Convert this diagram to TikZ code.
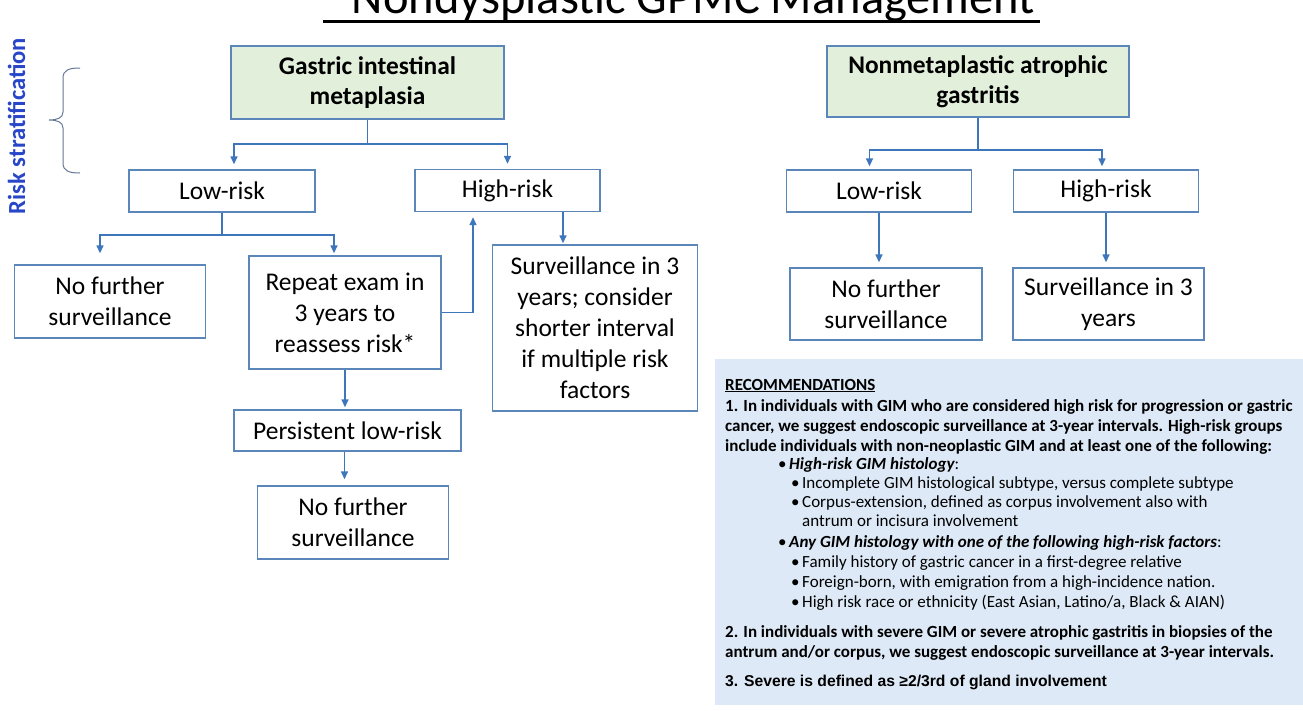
\documentclass[tikz,border=0pt]{standalone}
\usepackage{fontspec}
\setmainfont{Carlito}
\newfontfamily\arialfont{Liberation Sans}
\usetikzlibrary{arrows.meta}
\definecolor{boxline}{RGB}{91,134,186}
\definecolor{conncol}{RGB}{62,118,188}
\definecolor{gimfill}{RGB}{226,239,218}
\definecolor{recfill}{RGB}{221,233,246}
\definecolor{riskblue}{RGB}{40,70,200}
\definecolor{bracecol}{RGB}{100,120,150}
\tikzset{
  box/.style={draw=boxline, line width=1.4pt, fill=white, inner sep=0pt, align=center,
    font=\fontsize{25.5}{31}\selectfont, text=black},
  greenbox/.style={box, fill=gimfill, font=\fontsize{25.4}{30.5}\selectfont\bfseries},
  link/.style={draw=conncol, line width=1.4pt},
  conn/.style={link, -{Triangle[length=8pt,width=7pt]}},
  rectext/.style={anchor=base west, inner sep=0pt, font=\fontsize{17}{20}\selectfont, text=black},
  bul/.style={rectext},
}
\newcommand{\bl}{\makebox[11pt][l]{•}}
\begin{document}
\begin{tikzpicture}[x=1pt,y=-1pt]
\useasboundingbox (0,0) rectangle (1303,710);
\fill[white] (0,0) rectangle (1303,710);

% title
\node[anchor=base, inner sep=0pt, font=\fontsize{48.5}{58}\selectfont] (title) at (693.5,13) {Nondysplastic GPMC Management};
\draw[line width=2.5pt] (323,21.5) -- (1040,21.5);

% risk stratification label and brace
\node[rotate=90, inner sep=0pt, text=riskblue, font=\fontsize{24.6}{28}\selectfont\bfseries] (risk) at (16.5,126) {Risk stratification};
\draw[draw=bracecol, line width=1pt] (80,68) .. controls (69,68) and (63,70) .. (63,78) -- (63,112)
  .. controls (63,118) and (57,120) .. (49,120) .. controls (57,120) and (63,122) .. (63,128)
  -- (63,163) .. controls (63,171) and (69,173) .. (80,173);

% left tree
\node[greenbox, minimum width=273pt, minimum height=73pt] (gim) at (367.5,82.5) {Gastric intestinal\\metaplasia};
\node[box, minimum width=186pt, minimum height=42pt] (low) at (222,191) {Low-risk};
\node[box, minimum width=185pt, minimum height=42pt] (high) at (507.5,190.5) {High-risk};
\node[box, minimum width=190.5pt, minimum height=73pt] (nfs1) at (110,301.5) {No further\\surveillance};
\node[box, minimum width=192pt, minimum height=113pt] (rep) at (345,312.5) {Repeat exam in\\3 years to\\reassess risk*};
\node[box, minimum width=205pt, minimum height=166pt] (surv) at (595,328) {Surveillance in 3\\years; consider\\shorter interval\\if multiple risk\\factors};
\node[box, minimum width=227pt, minimum height=41pt] (pers) at (347.5,430.5) {Persistent low-risk};
\node[box, minimum width=190.5pt, minimum height=73pt] (nfs2) at (353,522.5) {No further\\surveillance};

\coordinate (gimbar) at (367.5,144);
\draw[link] (gim.south) -- (gimbar);
\draw[conn, shorten >=5pt] (gimbar) -| ([xshift=12pt]low.north);
\draw[conn, shorten >=5pt] (gimbar) -| (high.north);

\coordinate (lowbar) at (222,235);
\draw[link] (low.south) -- (lowbar);
\draw[conn, shorten >=11pt] (lowbar) -| ([xshift=-10pt]nfs1.north);
\draw[conn, shorten >=2pt] (lowbar) -| ([xshift=-11pt]rep.north);

\draw[conn, shorten >=5pt] (rep.east) -| ([xshift=-34.5pt]high.south);
\coordinate (hs) at ([xshift=55.5pt]high.south);
\draw[conn, shorten >=1pt] (hs) -- (hs |- surv.north);
\draw[conn, shorten >=2pt] (rep.south) -- (rep.south |- pers.north);
\draw[conn, shorten >=6pt] ([xshift=-3pt]pers.south) -- ([xshift=-3pt]pers.south |- nfs2.north);

% right tree
\node[greenbox, minimum width=302pt, minimum height=71pt] (nag) at (978,81.5) {Nonmetaplastic atrophic\\gastritis};
\node[box, minimum width=184.5pt, minimum height=42pt] (rlow) at (879,191) {Low-risk};
\node[box, minimum width=185.5pt, minimum height=42pt] (rhigh) at (1106,191) {High-risk};
\node[box, minimum width=192pt, minimum height=72pt] (rnfs) at (886,304) {No further\\surveillance};
\node[box, minimum width=191pt, minimum height=72pt] (rsurv) at (1108.5,304) {Surveillance in 3\\years};

\coordinate (nagbar) at (978,150);
\draw[link] (nag.south) -- (nagbar);
\draw[conn, shorten >=3pt] (nagbar) -| ([xshift=-9.5pt]rlow.north);
\draw[conn, shorten >=3pt] (nagbar) -| ([xshift=-4pt]rhigh.north);
\draw[conn, shorten >=5pt] (rlow.south) -- (rlow.south |- rnfs.north);
\draw[conn, shorten >=5pt] (rhigh.south) -- (rhigh.south |- rsurv.north);

% recommendations panel
\node[fill=recfill, inner sep=0pt, minimum width=588.5pt, minimum height=346pt, anchor=north west] (rec) at (714.5,359) {};
\node[rectext, font=\fontsize{17}{20}\selectfont\bfseries] (r0) at (725,390) {\underline{RECOMMENDATIONS}};
\node[rectext, font=\fontsize{17}{20}\selectfont\bfseries] (r1) at (725,411) {1. In individuals with GIM who are considered high risk for progression or gastric};
\node[rectext, font=\fontsize{17}{20}\selectfont\bfseries] (r2) at (725,431) {cancer, we suggest endoscopic surveillance at 3-year intervals. High-risk groups};
\node[rectext, font=\fontsize{17}{20}\selectfont\bfseries] (r3) at (725,451) {include individuals with non-neoplastic GIM and at least one of the following:};
\node[rectext] (r4) at (778,469) {\bl{\bfseries\itshape High-risk GIM histology}:};
\node[rectext] (r5) at (791,488) {\bl Incomplete GIM histological subtype, versus complete subtype};
\node[rectext] (r6) at (791,507) {\bl Corpus-extension, defined as corpus involvement also with};
\node[rectext] (r7) at (802,526) {antrum or incisura involvement};
\node[rectext] (r8) at (778,547) {\bl{\bfseries\itshape Any GIM histology with one of the following high-risk factors}:};
\node[rectext] (r9) at (791,567) {\bl Family history of gastric cancer in a first-degree relative};
\node[rectext] (r10) at (791,587) {\bl Foreign-born, with emigration from a high-incidence nation.};
\node[rectext] (r11) at (791,607) {\bl High risk race or ethnicity (East Asian, Latino/a, Black \& AIAN)};
\node[rectext, font=\fontsize{17}{20}\selectfont\bfseries] (r12) at (725,637) {2. In individuals with severe GIM or severe atrophic gastritis in biopsies of the};
\node[rectext, font=\fontsize{17}{20}\selectfont\bfseries] (r13) at (725,657) {antrum and/or corpus, we suggest endoscopic surveillance at 3-year intervals.};
\node[rectext, font=\fontsize{15.7}{19}\arialfont\bfseries] (r14) at (725,686) {3. Severe is defined as ≥2/3rd of gland involvement};
\end{tikzpicture}
\end{document}
